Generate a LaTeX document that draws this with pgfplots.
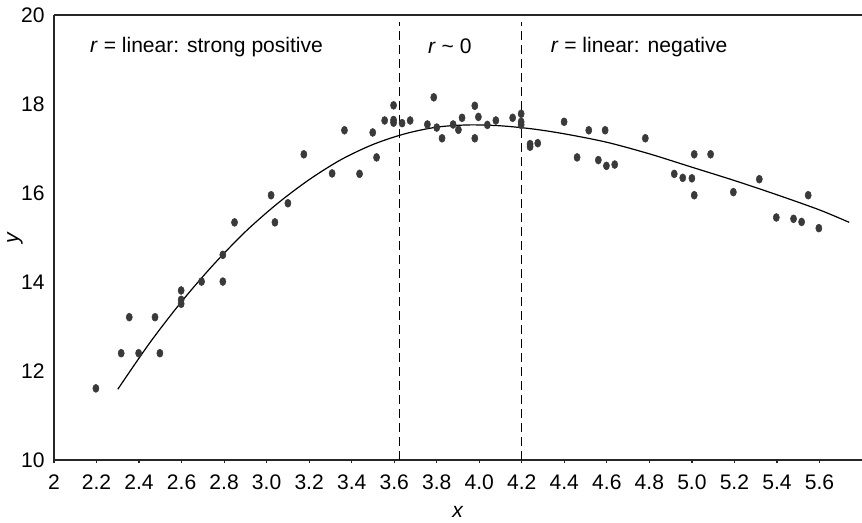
\documentclass[border=0pt]{standalone}
\usepackage{pgfplots}
\pgfplotsset{compat=1.18}
\usepackage{fontspec}
\setmainfont{Liberation Sans}
\definecolor{dotc}{HTML}{3A3A3A}
\begin{document}
\begin{tikzpicture}[font=\fontsize{15.8}{18}\selectfont]
\useasboundingbox (-40.5pt,-46.5pt) rectangle (606pt,345pt);
\begin{axis}[
  scale only axis,
  width=606pt, height=333.75pt,
  xmin=2, xmax=5.8, ymin=10, ymax=20,
  axis x line=box, axis y line=left,
  axis line style={line width=0.9pt, color=black!85, -},
  xtick={2,2.2,2.4,2.6,2.8,3.0,3.2,3.4,3.6,3.8,4.0,4.2,4.4,4.6,4.8,5.0,5.2,5.4,5.6},
  xticklabels={2,2.2,2.4,2.6,2.8,3.0,3.2,3.4,3.6,3.8,4.0,4.2,4.4,4.6,4.8,5.0,5.2,5.4,5.6},
  ytick={10,12,14,16,18,20},
  yticklabels={10,12,14,16,18,20},
  tick align=outside,
  x tick style={line width=0.9pt, color=black!85},
  major tick length=2.6pt,
  y tick style={draw=none},
  xtick pos=bottom,
  /pgf/number format/assume math mode=true,
  xticklabel style={yshift=-5pt},
  yticklabel style={xshift=-1pt},
  xlabel={\textit{x}}, ylabel={\textit{y}},
  xlabel style={at={(rel axis cs:0.5,-0.117)}, anchor=center},
  ylabel style={at={(rel axis cs:-0.0483,0.5)}, anchor=center},
  clip=false,
]
\addplot[black, line width=0.9pt, smooth] coordinates {
(2.30,11.59) (2.45,12.63) (2.60,13.56) (2.75,14.39) (2.90,15.13) (3.05,15.76)
(3.20,16.30) (3.35,16.75) (3.50,17.09) (3.65,17.33) (3.80,17.48) (3.95,17.53)
(4.10,17.51) (4.25,17.44) (4.40,17.33) (4.60,17.14) (4.80,16.88) (5.00,16.58)
(5.20,16.28) (5.40,15.96) (5.60,15.62) (5.74,15.34)};
\addplot[black, line width=1pt, dash pattern=on 7pt off 3.5pt] coordinates {(3.625,10) (3.625,19.85)};
\addplot[black, line width=1pt, dash pattern=on 7pt off 3.5pt] coordinates {(4.2,10) (4.2,19.85)};
\addplot[only marks, mark=*, mark size=2.3pt, color=dotc, mark options={fill=dotc, draw=dotc, yscale=1.3}] table {
x y
2.197 11.61
2.316 12.40
2.398 12.40
2.498 12.40
2.354 13.21
2.475 13.21
2.598 13.81
2.598 13.60
2.598 13.51
2.694 14.01
2.794 14.01
2.794 14.61
2.849 15.34
3.039 15.34
3.021 15.95
3.100 15.77
3.175 16.87
3.308 16.44
3.366 17.41
3.437 16.43
3.499 17.36
3.517 16.80
3.555 17.63
3.597 17.97
3.597 17.64
3.597 17.58
3.637 17.57
3.675 17.63
3.756 17.54
3.786 18.15
3.800 17.47
3.825 17.23
3.877 17.54
3.902 17.42
3.919 17.69
3.979 17.96
3.996 17.71
3.979 17.23
4.038 17.53
4.078 17.63
4.157 17.69
4.197 17.78
4.197 17.60
4.197 17.53
4.239 17.10
4.239 17.04
4.275 17.12
4.399 17.60
4.515 17.41
4.592 17.41
4.460 16.80
4.560 16.74
4.598 16.61
4.637 16.64
4.781 17.23
4.917 16.43
4.957 16.34
5.000 16.33
5.011 16.87
5.088 16.87
5.011 15.95
5.195 16.02
5.317 16.31
5.547 15.95
5.397 15.45
5.478 15.42
5.516 15.35
5.597 15.21
};
\node[anchor=west, inner sep=0pt] at (axis cs:2.169,19.29) {\textit{r} = linear: strong positive};
\node[anchor=west, inner sep=0pt] at (axis cs:3.758,19.29) {\textit{r} \char`~\ 0};
\node[anchor=west, inner sep=0pt] at (axis cs:4.335,19.29) {\textit{r} = linear: negative};
\end{axis}
\end{tikzpicture}
\end{document}
